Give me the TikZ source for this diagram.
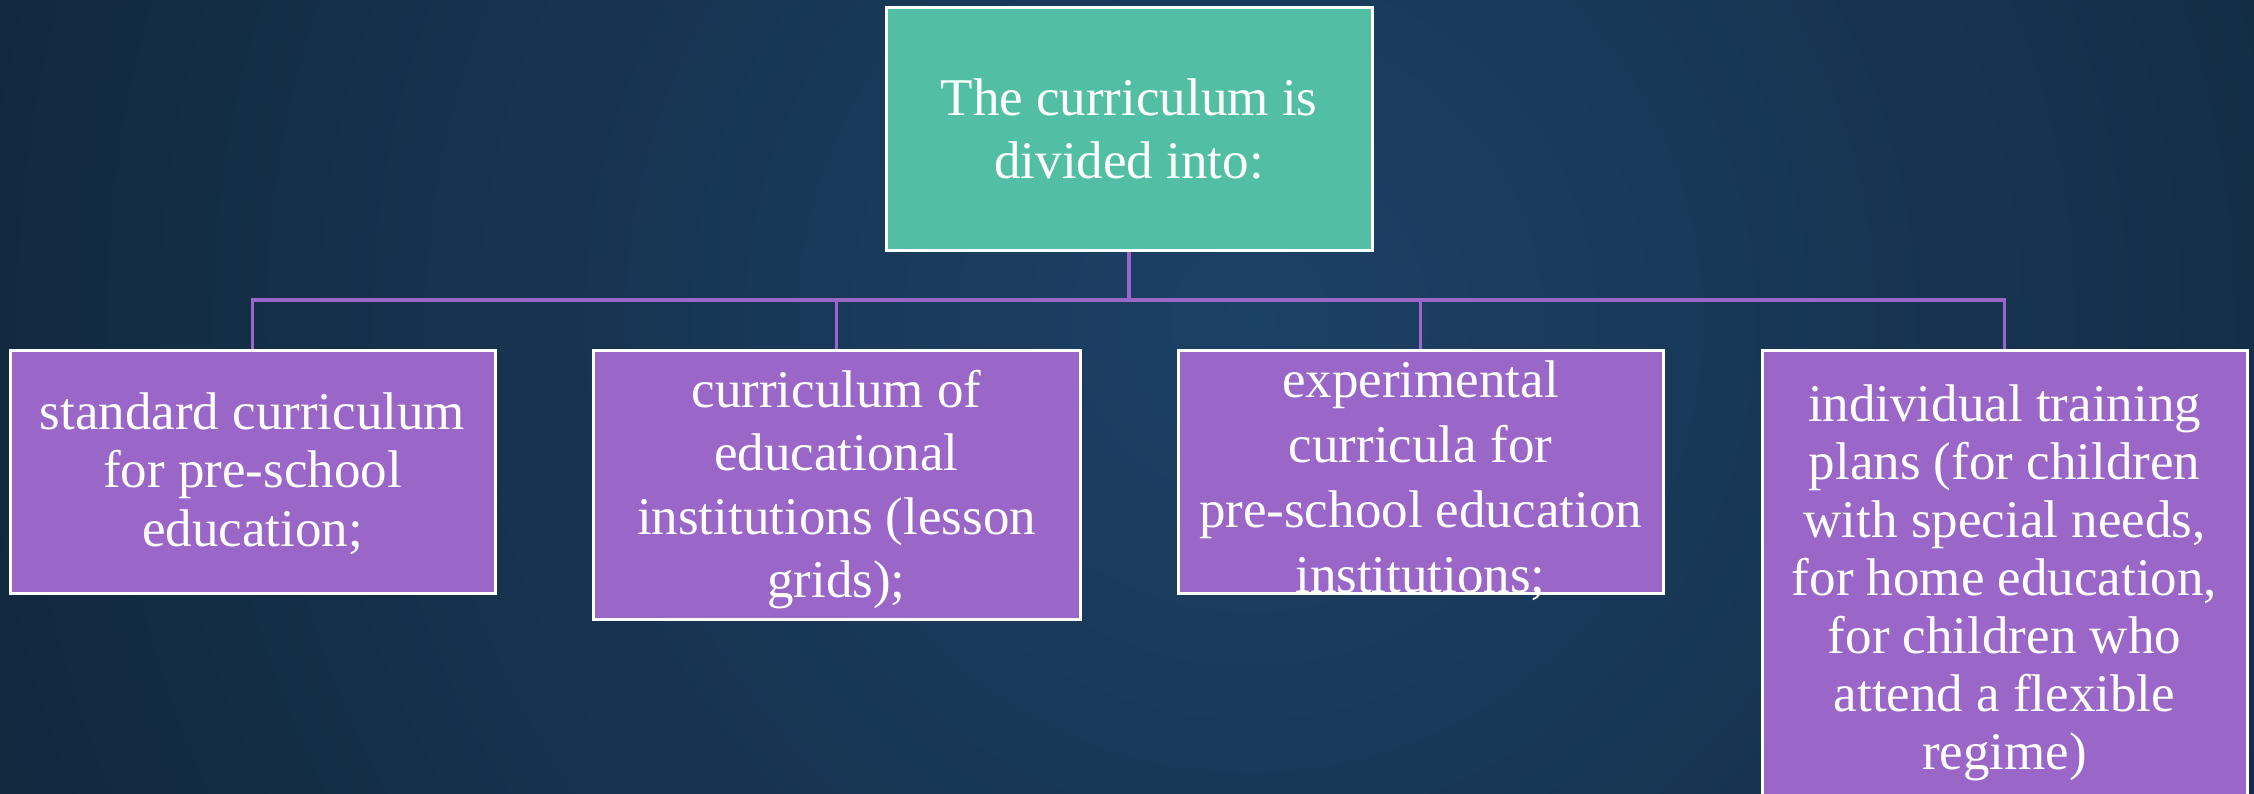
\documentclass[tikz,border=0pt]{standalone}
\usepackage{fontspec}
\setmainfont{Liberation Serif}
\definecolor{topgreen}{HTML}{52BFA5}
\definecolor{boxpurple}{HTML}{9A66C8}
\definecolor{bgin}{HTML}{1C4166}
\definecolor{bgout}{HTML}{07121C}
\begin{document}
\begin{tikzpicture}[x=1pt,y=-1pt,
  boxshape/.style={rectangle, draw=white, line width=3pt, inner sep=0pt},
  topbox/.style={boxshape, fill=topgreen, minimum width=486pt, minimum height=243pt},
  subbox/.style={boxshape, fill=boxpurple, minimum width=485pt},
  txt/.style={text=white, align=center, inner sep=0pt},
  conn/.style={draw=boxpurple, line width=3.5pt}]
\useasboundingbox (0,0) rectangle (2254,793);
\begin{scope}
\clip (0,0) rectangle (2254,793);
\fill[bgout] (0,0) rectangle (2254,793);
\shade[inner color=bgin, outer color=bgout] (1250,320) circle (2500);
% boxes
\node[topbox] (top) at (1129,128.5) {};
\node[subbox, minimum height=243pt] (b1) at (252.5,471.5) {};
\node[subbox, minimum height=269pt, minimum width=487pt] (b2) at (836.5,484.5) {};
\node[subbox, minimum height=243pt] (b3) at (1420.5,471.5) {};
\node[subbox, minimum height=458pt] (b4) at (2004.5,579) {};
% connectors
\coordinate (j) at (1129,300);
\draw[conn] (top.south) -- (j);
\draw[conn] (j) -| (b1.north);
\draw[conn] (j) -| (b2.north);
\draw[conn] (j) -| (b3.north);
\draw[conn] (j) -| (b4.north);
% texts
\node[txt, font=\fontsize{53}{63}\selectfont] (ttop) at (top) {The curriculum is\\divided into:};
\node[txt, font=\fontsize{53}{58.5}\selectfont] (t1) at ([yshift=-2pt]b1.center) {standard curriculum\\for pre-school\\education;};
\node[txt, font=\fontsize{53}{63.5}\selectfont] (t2) at ([yshift=-5pt]b2.center) {curriculum of\\educational\\institutions (lesson\\grids);};
\node[txt, font=\fontsize{53}{65}\selectfont] (t3) at ([yshift=-9pt]b3.center) {experimental\\curricula for\\pre-school education\\institutions;};
\node[txt, font=\fontsize{53}{58}\selectfont] (t4) at ([yshift=-4pt]b4.center) {individual training\\plans (for children\\with special needs,\\for home education,\\for children who\\attend a flexible\\regime)};
\end{scope}
\end{tikzpicture}
\end{document}
